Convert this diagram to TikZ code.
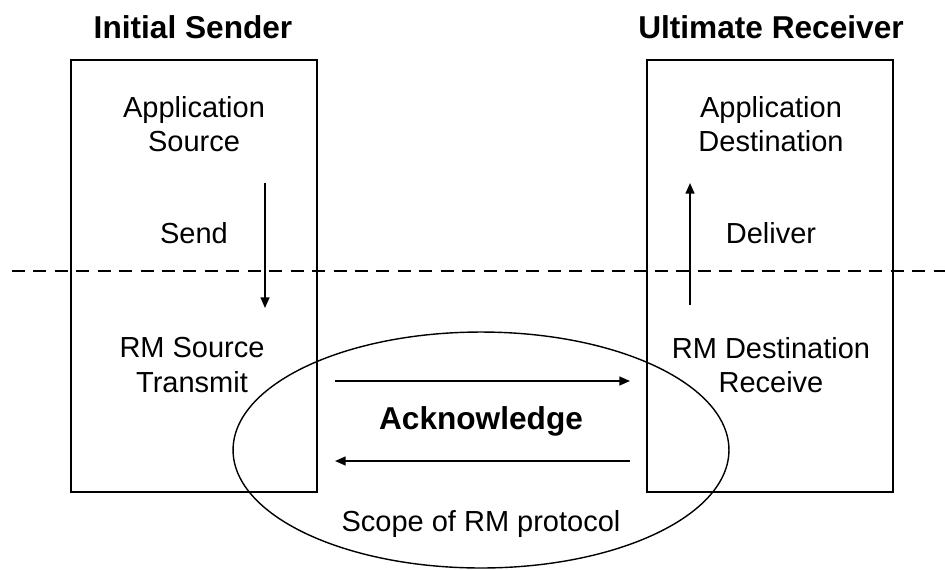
\documentclass[tikz,border=0pt]{standalone}
\usepackage{fontspec}
\setmainfont{Liberation Sans}
\usetikzlibrary{arrows.meta, shapes.geometric}
\tikzset{
  hosttitle/.style={font=\fontsize{18}{21}\selectfont\bfseries, inner sep=0pt},
  layer/.style={font=\fontsize{16.5}{19.5}\selectfont, align=center, inner sep=0pt},
  hostbox/.style={rectangle, draw, line width=0.9pt, minimum width=4.92cm,
                  minimum height=8.64cm, inner sep=0pt},
  scope/.style={ellipse, draw, line width=0.8pt, minimum width=9.92cm,
                minimum height=4.72cm, inner sep=0pt},
  flow/.style={-{Triangle[length=6pt,width=5pt]}, line width=0.9pt},
}

\begin{document}
\begin{tikzpicture}[x=0.02cm, y=-0.02cm]
  \useasboundingbox (0,0) rectangle (945,569);
  % hosts
  \node[hostbox] (sender) at (194,276) {};
  \node[hostbox] (receiver) at (770,276) {};
  \node[hosttitle] (sendertitle) at (193,27) {Initial Sender};
  \node[hosttitle] (receivertitle) at (771,27) {Ultimate Receiver};
  % layers
  \node[layer] (appsrc) at (194,124) {Application\\Source};
  \node[layer] (send) at (194,233) {Send};
  \node[layer] (rmsrc) at (192,365) {RM Source\\Transmit};
  \node[layer] (appdst) at (771,124) {Application\\Destination};
  \node[layer] (deliver) at (771,233) {Deliver};
  \node[layer] (rmdst) at (771,365) {RM Destination\\Receive};
  % protocol scope
  \node[scope] (rmscope) at (481,450) {};
  \node[hosttitle] (ack) at (481,421) {Acknowledge};
  \node[layer] (scopelabel) at (481,524) {Scope of RM protocol};
  % ends of the connectors
  \coordinate (sendtop) at (265,183);
  \coordinate (sendbot) at (265,308);
  \coordinate (delbot) at (690,305);
  \coordinate (deltop) at (690,183);
  \coordinate (txsrc) at (335,381);
  \coordinate (txdst) at (630,381);
  \coordinate (acksrc) at (630,461);
  \coordinate (ackdst) at (335,461);
  \coordinate (sepleft) at (12,271);
  \coordinate (sepright) at (945,271);
  % connectors
  \draw[dash pattern=on 7.4pt off 4.8pt, line width=0.85pt] (sepleft) -- (sepright);
  \draw[flow] (sendtop) -- (sendbot);
  \draw[flow] (delbot) -- (deltop);
  \draw[flow] (txsrc) -- (txdst);
  \draw[flow] (acksrc) -- (ackdst);
\end{tikzpicture}
\end{document}
